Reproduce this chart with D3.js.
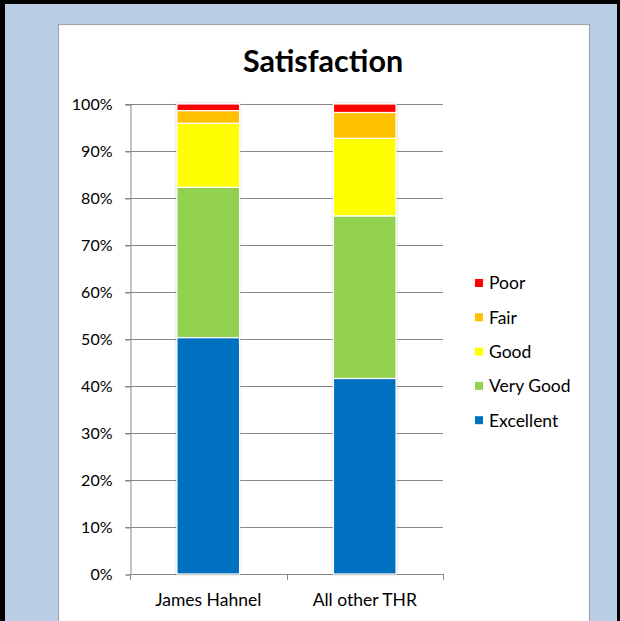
<!DOCTYPE html>
<html>
<head>
<meta charset="utf-8">
<script src="https://cdn.jsdelivr.net/npm/d3@7"></script>
<style>
  html, body { margin: 0; padding: 0; background: #000; }
  svg { display: block; font-family: Lato, "Open Sans", sans-serif; }
</style>
</head>
<body>
<div id="chart"></div>
<script>
// data
const categories = ['James Hahnel', 'All other THR'];
const levels = ['Excellent', 'Very Good', 'Good', 'Fair', 'Poor'];
const colors = ['#0070c0', '#92d050', '#ffff00', '#ffc000', '#ff0000'];
const excellent = [50.3, 41.6];
const veryGood = [32.0, 34.6];
const good = [13.6, 16.5];
const fair = [2.7, 5.5];
const poor = [1.4, 1.8];
const yTicks = [0, 10, 20, 30, 40, 50, 60, 70, 80, 90, 100];

const width = 620, height = 621;
const svg = d3.select('#chart').append('svg')
    .attr('width', width)
    .attr('height', height);

// frame: black edge, blue backdrop, white panel
svg.append('rect').attr('width', width).attr('height', height).attr('fill', '#000');
svg.append('rect').attr('x', 5).attr('y', 4).attr('width', width - 8).attr('height', height)
    .attr('fill', '#b9cde5');
svg.append('rect').attr('x', 58.5).attr('y', 24.5).attr('width', 531).attr('height', 610)
    .attr('fill', '#fff').attr('stroke', '#a5a5a5').attr('stroke-width', 1.2);

const defs = svg.append('defs');
const f = defs.append('filter').attr('id', 'shadow')
    .attr('x', '-20%').attr('y', '-5%').attr('width', '140%').attr('height', '110%');
f.append('feDropShadow').attr('dx', 0).attr('dy', 0).attr('stdDeviation', 1.2)
    .attr('flood-color', '#000').attr('flood-opacity', 0.25);

svg.append('text')
    .attr('x', 323).attr('y', 72)
    .attr('text-anchor', 'middle')
    .attr('font-weight', 'bold')
    .attr('font-size', 30.5)
    .attr('fill', '#000')
    .text('Satisfaction');

const x = d3.scaleBand().domain(categories).range([130, 443]).paddingInner(0.6).paddingOuter(0.3);
const xTick = d3.scaleBand().domain(categories).range([130, 443]);
const y = d3.scaleLinear().domain([0, 100]).range([574, 104]);

// gridlines
svg.append('g')
    .selectAll('line')
    .data(yTicks.slice(1))
    .join('line')
    .attr('x1', 125).attr('x2', 443)
    .attr('y1', d => y(d) + 0.5).attr('y2', d => y(d) + 0.5)
    .attr('stroke', '#888').attr('stroke-width', 1);

// y axis
const yAxis = svg.append('g')
    .attr('transform', 'translate(130.5,0.5)')
    .call(d3.axisLeft(y).tickValues(yTicks).tickFormat(d => d + '%').tickSize(5).tickPadding(13));
yAxis.select('.domain').attr('stroke', '#888');
yAxis.selectAll('.tick line').attr('stroke', '#888');
yAxis.selectAll('.tick text').attr('font-size', 16).attr('fill', '#000')
    .attr('font-family', 'Lato, sans-serif');

// x axis
svg.append('line').attr('x1', 130).attr('x2', 443).attr('y1', 574.5).attr('y2', 574.5)
    .attr('stroke', '#888');
svg.append('g')
    .selectAll('line')
    .data([130, 130 + xTick.bandwidth(), 443])
    .join('line')
    .attr('x1', d => Math.round(d) + 0.5).attr('x2', d => Math.round(d) + 0.5)
    .attr('y1', 574).attr('y2', 580)
    .attr('stroke', '#888');
svg.append('g')
    .selectAll('text')
    .data(categories)
    .join('text')
    .attr('x', d => xTick(d) + xTick.bandwidth() / 2)
    .attr('y', 606)
    .attr('text-anchor', 'middle')
    .attr('font-size', 17.5)
    .attr('fill', '#000')
    .text(d => d);

// stacked bars
const rows = categories.map((c, i) => ({
    cat: c,
    Excellent: excellent[i], 'Very Good': veryGood[i], Good: good[i], Fair: fair[i], Poor: poor[i]
}));
const stack = d3.stack().keys(levels)(rows);

svg.append('g')
    .attr('filter', 'url(#shadow)')
    .selectAll('g')
    .data(stack)
    .join('g')
    .attr('fill', (d, i) => colors[i])
    .selectAll('rect')
    .data(d => d)
    .join('rect')
    .attr('x', d => x(d.data.cat))
    .attr('width', x.bandwidth())
    .attr('y', d => y(d[1]))
    .attr('height', d => y(d[0]) - y(d[1]))
    .attr('stroke', '#fff')
    .attr('stroke-width', 1.2);

// legend (top item is Poor)
const legend = svg.append('g')
    .selectAll('g')
    .data(levels.slice().reverse())
    .join('g')
    .attr('transform', (d, i) => `translate(475, ${283 + i * 34.3})`);
legend.append('rect')
    .attr('x', 0).attr('y', -4).attr('width', 8).attr('height', 8)
    .attr('fill', d => colors[levels.indexOf(d)]);
legend.append('text')
    .attr('x', 14).attr('y', 0).attr('dy', '0.36em')
    .attr('font-size', 17.5)
    .attr('fill', '#000')
    .text(d => d);
</script>
</body>
</html>
